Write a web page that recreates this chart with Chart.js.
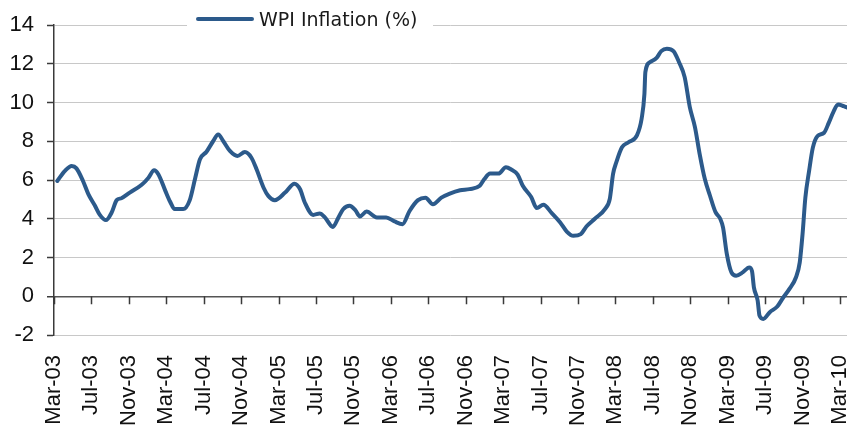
<!DOCTYPE html>
<html>
<head>
<meta charset="utf-8">
<script src="https://cdn.jsdelivr.net/npm/chart.js@4.4.1/dist/chart.umd.min.js"></script>
<style>
html,body{margin:0;padding:0;background:#ffffff;}
#wrap{width:847px;height:428px;position:relative;}
</style>
</head>
<body>
<div id="wrap"><canvas id="c"></canvas></div>
<script>
// ---- data ----
const seriesLabel = 'WPI Inflation (%)';
const tickLabels = ['Mar-03','Jul-03','Nov-03','Mar-04','Jul-04','Nov-04','Mar-05','Jul-05','Nov-05','Mar-06','Jul-06','Nov-06','Mar-07','Jul-07','Nov-07','Mar-08','Jul-08','Nov-08','Mar-09','Jul-09','Nov-09','Mar-10'];
const monthsPerTick = 4;
// x position of each reading, in months since Mar-2003
const monthsSinceMar03 = [
  0.35,1.17,1.89,2.4,3.1,3.67,4.38,4.9,5.55,6.16,6.7,7.2,8.1,9.37,10.1,10.7,11.15,11.9,12.4,12.9,
  13.8,14.5,15.1,15.6,16.3,17.0,17.55,18.1,18.8,19.6,20.4,21.1,21.65,22.4,22.9,23.6,24.7,25.7,26.3,26.8,
  27.7,28.4,28.95,29.8,30.4,30.9,31.6,32.2,32.7,33.4,34.5,35.5,36.4,37.25,38.0,38.9,39.7,40.5,41.4,42.3,
  43.4,44.4,45.5,46.0,46.6,47.5,48.3,48.9,49.55,50.1,51.0,51.6,52.3,53.2,54.1,54.8,55.5,56.3,56.9,57.8,
  58.9,59.4,59.75,60.1,60.7,61.4,62.3,62.8,63.1,63.2,63.7,64.4,64.9,65.5,66.2,66.8,67.4,67.95,68.5,69.0,
  69.55,70.1,70.7,71.2,71.5,71.9,72.4,72.9,73.6,74.3,74.6,74.8,75.2,75.4,75.8,76.5,77.3,77.9,78.6,79.3,
  79.7,80.0,80.3,80.7,81.1,81.6,82.3,82.8,83.3,83.8,84.4,84.8
];
const wpiInflation = [
  5.95,6.47,6.72,6.6,5.95,5.27,4.67,4.2,3.93,4.32,4.96,5.06,5.35,5.75,6.12,6.5,6.3,5.44,4.89,4.5,
  4.5,4.95,6.12,7.07,7.46,8.0,8.35,8.0,7.5,7.24,7.44,7.15,6.55,5.6,5.18,4.96,5.35,5.81,5.52,4.84,
  4.2,4.27,4.07,3.58,4.07,4.49,4.67,4.44,4.12,4.37,4.07,4.07,3.86,3.72,4.4,4.96,5.09,4.75,5.09,5.3,
  5.47,5.53,5.7,6.05,6.33,6.33,6.66,6.53,6.28,5.7,5.12,4.55,4.72,4.29,3.81,3.34,3.12,3.21,3.6,4.0,
  4.51,5.03,6.32,6.92,7.69,7.95,8.3,9.16,10.45,11.57,12.08,12.3,12.65,12.77,12.65,12.08,11.31,9.76,8.73,7.35,
  6.06,5.2,4.34,4.0,3.55,2.2,1.23,1.06,1.23,1.49,1.29,0.46,-0.22,-1.0,-1.17,-0.82,-0.53,-0.09,0.38,0.98,
  1.75,3.21,5.09,6.47,7.67,8.27,8.44,8.95,9.52,9.9,9.81,9.73
];
const yMin = -2, yMax = 14, yStep = 2;
const xMaxMonths = 84.75;

// ---- styles ----
const lineColor = '#2c5a8b';
const axisColor = '#3a3a3a';
const gridColor = '#c8c8c8';

const points = monthsSinceMar03.map((m, i) => ({x: m, y: wpiInflation[i]}));

// tick marks hanging from the zero line at every x tick
const zeroTicksPlugin = {
  id: 'zeroTicks',
  beforeDatasetsDraw(chart) {
    const xs = chart.scales.x, ys = chart.scales.y, ctx = chart.ctx;
    const y0 = ys.getPixelForValue(0);
    ctx.save();
    ctx.strokeStyle = axisColor;
    ctx.lineWidth = 1.5;
    ctx.beginPath();
    tickLabels.forEach((_, i) => {
      const px = Math.round(xs.getPixelForValue(i * monthsPerTick)) + 0.5;
      ctx.moveTo(px, y0);
      ctx.lineTo(px, y0 + 8);
    });
    ctx.stroke();
    ctx.restore();
  }
};

// legend overlapping the top gridline
const legendPlugin = {
  id: 'floatLegend',
  afterDraw(chart) {
    const ctx = chart.ctx, ca = chart.chartArea;
    const x0 = ca.left + 133;
    ctx.save();
    ctx.fillStyle = '#ffffff';
    ctx.fillRect(x0, 0, 246, ca.top + 3);
    ctx.strokeStyle = lineColor;
    ctx.lineWidth = 4;
    ctx.lineCap = 'round';
    ctx.beginPath();
    ctx.moveTo(x0 + 11, 19);
    ctx.lineTo(x0 + 65, 19);
    ctx.stroke();
    ctx.fillStyle = '#1a1a1a';
    ctx.font = '19px "DejaVu Sans", sans-serif';
    ctx.textBaseline = 'alphabetic';
    ctx.textAlign = 'left';
    ctx.fillText(seriesLabel, x0 + 72, 26);
    ctx.restore();
  }
};

new Chart(document.getElementById('c'), {
  type: 'line',
  data: {
    datasets: [{
      label: seriesLabel,
      data: points,
      borderColor: lineColor,
      backgroundColor: lineColor,
      borderWidth: 4,
      pointRadius: 0,
      cubicInterpolationMode: 'monotone',
      borderCapStyle: 'round',
      borderJoinStyle: 'round',
      fill: false
    }]
  },
  options: {
    responsive: true,
    maintainAspectRatio: false,
    animation: false,
    events: [],
    layout: {padding: {top: 25, left: 0, right: 0, bottom: 0}},
    plugins: {legend: {display: false}, tooltip: {enabled: false}},
    scales: {
      x: {
        type: 'linear',
        min: 0,
        max: xMaxMonths,
        grid: {display: false, drawTicks: false},
        border: {display: false},
        afterBuildTicks(scale) {
          scale.ticks = tickLabels.map((_, i) => ({value: i * monthsPerTick}));
        },
        afterFit(scale) {
          scale.height = 93;
          scale.paddingLeft = 0;
          scale.paddingRight = 0;
        },
        ticks: {
          autoSkip: false,
          maxRotation: 90,
          minRotation: 90,
          padding: 20,
          color: '#111111',
          font: {family: '"Liberation Sans", Arial, sans-serif', size: 22},
          callback: (v) => tickLabels[Math.round(v / monthsPerTick)]
        }
      },
      y: {
        min: yMin,
        max: yMax,
        ticks: {
          stepSize: yStep,
          padding: 13,
          color: '#111111',
          font: {family: '"Liberation Sans", Arial, sans-serif', size: 22}
        },
        grid: {
          color: (c) => (c.tick && c.tick.value === 0) ? '#555555' : gridColor,
          lineWidth: (c) => (c.tick && c.tick.value === 0) ? 1.5 : 1,
          tickColor: axisColor,
          tickLength: 7,
          tickWidth: 1.5
        },
        border: {display: true, color: axisColor, width: 1.5},
        afterFit(scale) {
          scale.width = 54;
          scale.paddingTop = 0;
          scale.paddingBottom = 0;
        }
      }
    }
  },
  plugins: [zeroTicksPlugin, legendPlugin]
});
</script>
</body>
</html>
